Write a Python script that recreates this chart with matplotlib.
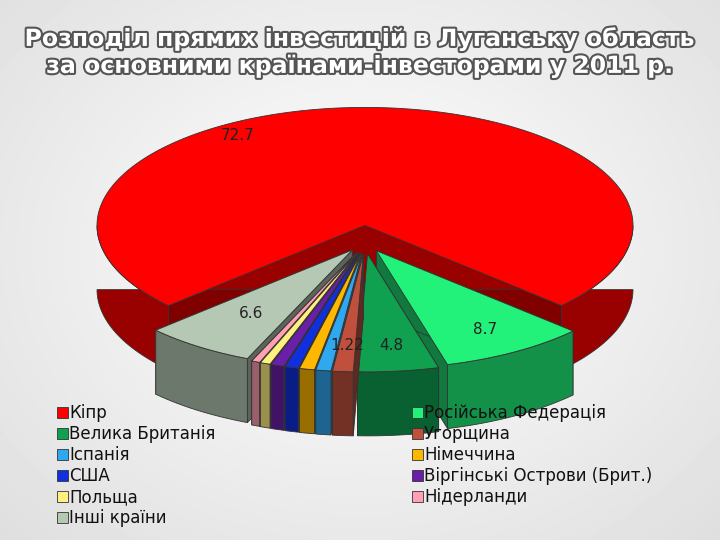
import numpy as np
import matplotlib.pyplot as plt
import matplotlib.patheffects as pe
from matplotlib.patches import Polygon, Rectangle
from matplotlib.colors import to_rgb

# дані (за годинниковою стрілкою від Кіпру)
countries = ['Кіпр', 'Російська Федерація', 'Велика Британія', 'Угорщина', 'Іспанія',
             'Німеччина', 'США', 'Віргінські Острови (Брит.)', 'Польща', 'Нідерланди', 'Інші країни']
values = [72.7, 8.7, 4.8, 1.22, 0.9, 0.9, 0.8, 0.8, 0.6, 0.5, 6.6]
labels = ['72.7', '8.7', '4.8', '1.22', '', '', '', '', '', '', '6.6']
colors = ['#FF0000', '#22F27A', '#0FA050', '#C0503C', '#30A8F0', '#FFB800', '#1030E0',
          '#6A1FA8', '#FFF080', '#FFA0B4', '#B4C8B4']

fig = plt.figure(figsize=(7.2, 5.4), dpi=100)
ax = fig.add_axes([0, 0, 1, 1])
ax.set_xlim(0, 720)
ax.set_ylim(540, 0)
ax.axis('off')

# фон
yy, xx = np.mgrid[0:540, 0:720]
d = np.sqrt(((xx - 360) / 520) ** 2 + ((yy - 250) / 420) ** 2)
ax.imshow(1 - 0.13 * d, cmap='gray', vmin=0, vmax=1, extent=[0, 720, 540, 0], zorder=0)

cx, cy, rx, ry, depth, expl = 365, 232, 268, 118, 64, 22


def dark(c, f=0.6):
    return tuple(v * f for v in to_rgb(c))


total = sum(values)
start = 90 + 360 * values[0] / total / 2
wedges = []
a0 = start
for i, v in enumerate(values):
    a1 = a0 - 360 * v / total
    wedges.append((i, a1, a0))
    a0 = a1


def pt(a, r, ox, oy, dz=0):
    t = np.radians(a)
    return (cx + ox + rx * r * np.cos(t), cy + oy - ry * r * np.sin(t) + dz)


order = sorted(wedges, key=lambda w: np.sin(np.radians((w[1] + w[2]) / 2)), reverse=True)
z = 2
for i, a1, a2 in order:
    mid = np.radians((a1 + a2) / 2)
    e = expl * (0.3 if i == 0 else 1.0)
    ox, oy = e * np.cos(mid), -e * np.sin(mid)
    c = colors[i]
    sc = dark(c)
    # радіальні грані
    for a in (a1, a2):
        p0 = pt(a, 0, ox, oy); p1 = pt(a, 1, ox, oy)
        quad = [p0, p1, (p1[0], p1[1] + depth), (p0[0], p0[1] + depth)]
        ax.add_patch(Polygon(quad, fc=dark(c, 0.5), ec='#333333', lw=0.6, zorder=z)); z += 1
    # зовнішня стінка (передня частина)
    angs = np.linspace(a1, a2, 200)
    front = angs[np.sin(np.radians(angs)) < 0.02]
    if len(front) > 1:
        top = [pt(a, 1, ox, oy) for a in front]
        bot = [pt(a, 1, ox, oy, depth) for a in front[::-1]]
        ax.add_patch(Polygon(top + bot, fc=sc, ec='#333333', lw=0.6, zorder=z)); z += 1
    # верх
    poly = [pt(0, 0, ox, oy)] + [pt(a, 1, ox, oy) for a in angs]
    ax.add_patch(Polygon(poly, fc=c, ec='#333333', lw=0.6, zorder=z)); z += 1
    if labels[i]:
        if i == 0:
            lx, ly = pt(a1 + 0.62 * (a2 - a1), 0.9, ox, oy)
        else:
            lx, ly = pt((a1 + a2) / 2, 0.78 if i != 10 else 0.66, ox, oy)
        ax.text(lx, ly, labels[i], fontsize=11, color='#222222', ha='center', va='center', zorder=500)

# заголовок
title = 'Розподіл прямих інвестицій в Луганську область\nза основними країнами-інвесторами у 2011 р.'
ax.text(360, 52, title, fontsize=17, fontweight='bold', color='white', ha='center', va='center',
        linespacing=1.15, zorder=600,
        path_effects=[pe.withStroke(linewidth=3, foreground='#555555')])

# легенда
for k, name in enumerate(countries):
    col, row = k % 2, k // 2
    x0 = 57 if col == 0 else 412
    y0 = 413 + row * 21
    ax.add_patch(Rectangle((x0, y0 - 6), 11, 11, fc=colors[k], ec='#333333', lw=0.6, zorder=600))
    ax.text(x0 + 12, y0, name, fontsize=12, va='center', ha='left', color='#111111', zorder=600)

fig.savefig('out.png', dpi=100)
